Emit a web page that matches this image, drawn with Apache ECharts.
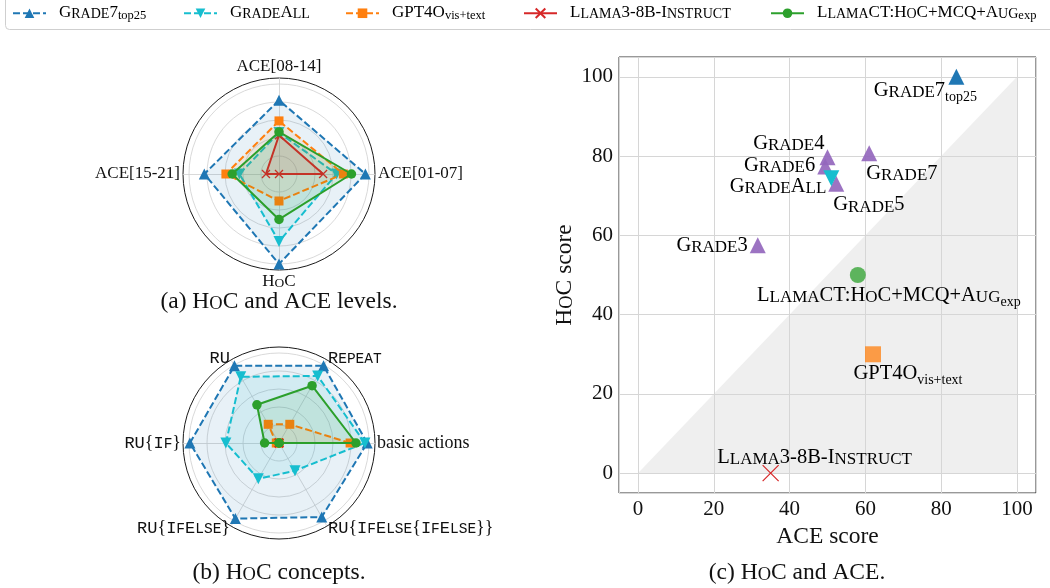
<!DOCTYPE html>
<html><head><meta charset="utf-8">
<script src="https://cdn.jsdelivr.net/npm/echarts@6/dist/echarts.min.js"></script>
<style>html,body{margin:0;padding:0;background:#fff}#c{width:1050px;height:588px}</style>
</head><body><div id="c"></div>
<script>
// ---------------- data ----------------
const models = ['Grade7_top25', 'GradeAll', 'GPT4O_vis+text', 'Llama3-8B-Instruct', 'LlamaCT:HoC+MCQ+Aug_exp'];

// (a) HoC and ACE levels  (counter-clockwise from top)
const levelAxes = ['ACE[08-14]', 'ACE[15-21]', 'HoC', 'ACE[01-07]'];
const levelGrade7top25 = [82, 83, 100, 96];
const levelGradeAll    = [46, 44, 75, 64];
const levelGPT4o       = [59, 59, 30, 71.5];
const levelLlama3      = [43, 14.5, 0, 49];
const levelLlamaCT     = [46.7, 52, 50.5, 80.5];

// (b) HoC concepts (counter-clockwise from right)
const conceptAxes = ['basic actions', 'Repeat', 'RU', 'RU{If}', 'RU{IfElse}', 'RU{IfElse{IfElse}}'];
const conceptGrade7top25 = [98, 99, 99, 99, 97, 95];
const conceptGradeAll    = [95.5, 86, 85, 59, 46, 35.5];
const conceptGPT4o       = [79, 24, 24, 3, 0, 0];
const conceptLlama3      = [0, 0, 0, 0, 0, 0];
const conceptLlamaCT     = [85.5, 73.5, 49, 16, 0, 0];

// (c) HoC vs ACE
const aceScore = [84, 51, 62, 35, 58];
const hocScore = [100, 74.4, 30, 0, 50];
const gradeNames = ['Grade3', 'Grade4', 'Grade5', 'Grade6', 'Grade7'];
const gradeAce = [31.6, 50, 52.3, 49.4, 61];
const gradeHoc = [57.5, 79.7, 73, 77.4, 80.7];
const diagonal = [[0, 0], [100, 100]];

// ---------------- styles ----------------
const SERIF = 'Liberation Serif';
const MONO = 'Liberation Mono';
const TXT = '#111';
const colors = ['#1f77b4', '#17becf', '#ff7f0e', '#d62728', '#2ca02c'];
const dashes = [[7, 3], [7, 3], [7, 3], 'solid', 'solid'];
const XPATH = 'path://M0,0L10,10M10,0L0,10';
const syms = ['triangle', 'triangle', 'rect', XPATH, 'circle'];
const rots = [0, 180, 0, 0, 0];
const radarSymSize = [11, 11, 9, 8, 9.5];
const pointOpacity = [1, 1, 0.75, 1, 0.75];
const legendLeft = [12, 183, 345, 523, 770];

// label placement for panel (c): [dx, dy, align]
const labelPlace = {
  'Grade7_top25': [-31, 15.3, 'center'],
  'GradeAll': [-5, 9.8, 'right'],
  'GPT4O_vis+text': [35, 21, 'center'],
  'Llama3-8B-Instruct': [44, -14, 'center'],
  'LlamaCT:HoC+MCQ+Aug_exp': [31, 22.5, 'center'],
  'Grade3': [-10, 2, 'right'],
  'Grade4': [-3, -12.2, 'right'],
  'Grade5': [-3, 23, 'left'],
  'Grade6': [-10, 0.5, 'right'],
  'Grade7': [-3, 22, 'left']
};

// small caps rich string builder
function sc(s, p) {
  let sub = '';
  const us = s.indexOf('_');
  if (us >= 0) { sub = s.slice(us + 1); s = s.slice(0, us); }
  let out = '', cur = null, buf = '';
  const flush = () => { if (buf) out += '{' + p + cur + '|' + buf + '}'; buf = ''; };
  for (const ch of s) {
    const t = (ch >= 'a' && ch <= 'z') ? 'S' : 'B';
    if (t !== cur) { flush(); cur = t; }
    buf += (t === 'S' ? ch.toUpperCase() : ch);
  }
  flush();
  if (sub) out += '{' + p + 'sub|' + sub + '}';
  return out;
}
// typewriter small caps with serif braces (braces left as plain text)
function mono(s) {
  let out = '', cur = null, buf = '';
  const flush = () => { if (buf) out += (cur === 'P' ? buf : '{m' + cur + '|' + buf + '}'); buf = ''; };
  for (const ch of s) {
    let t;
    if (ch === '{' || ch === '}') t = 'P';
    else if (ch >= 'a' && ch <= 'z') t = 'S';
    else t = 'B';
    if (t !== cur) { flush(); cur = t; }
    buf += (t === 'S' ? ch.toUpperCase() : ch);
  }
  flush();
  return out;
}
function richSet(p, big, small, subSize, pad, color) {
  const r = {};
  const common = { color: color, opacity: 1, textBorderWidth: 0, textBorderColor: 'transparent', textShadowBlur: 0 };
  r[p + 'B'] = Object.assign({ fontFamily: SERIF, fontSize: big, verticalAlign: 'bottom', padding: [0, 0, pad, 0] }, common);
  r[p + 'S'] = Object.assign({ fontFamily: SERIF, fontSize: small, verticalAlign: 'bottom', padding: [0, 0, pad, 0] }, common);
  r[p + 'sub'] = Object.assign({ fontFamily: SERIF, fontSize: subSize, verticalAlign: 'bottom' }, common);
  return r;
}

const labelRich = richSet('', 20.5, 17, 14, 3.5, '#000');
function pointLabel(name) {
  const pl = labelPlace[name];
  return {
    show: true, position: 'inside', offset: [pl[0], pl[1]], align: pl[2], verticalAlign: 'middle',
    formatter: () => sc(name, ''), fontFamily: SERIF, fontSize: 20.5, color: '#000', opacity: 1,
    textBorderWidth: 0, textBorderColor: 'transparent', rich: labelRich
  };
}

// ---------------- series ----------------
const series = [];
models.forEach((m, i) => {
  const isX = syms[i] === XPATH;
  series.push({
    type: 'line', name: m, xAxisIndex: 0, yAxisIndex: 0,
    data: [{ value: [aceScore[i], hocScore[i]], itemStyle: { opacity: pointOpacity[i] } }],
    symbol: syms[i], symbolSize: 16, symbolRotate: rots[i], showSymbol: true,
    lineStyle: { width: 2, type: dashes[i], color: colors[i] },
    itemStyle: isX ? { color: 'rgba(0,0,0,0)', borderColor: colors[i], borderWidth: 1.2 } : { color: colors[i] },
    label: pointLabel(m), z: 4 + i
  });
});
series.push({
  type: 'line', name: 'diag', data: diagonal, symbol: 'none', silent: true,
  lineStyle: { width: 0 }, areaStyle: { color: '#efefef', opacity: 1 }, z: -1
});
series.push({
  type: 'scatter', name: 'Grades', symbol: 'triangle', symbolSize: 16,
  itemStyle: { color: '#9467bd', opacity: 0.92 },
  data: gradeNames.map((g, k) => ({ name: g, value: [gradeAce[k], gradeHoc[k]], label: pointLabel(g) })),
  z: 3
});

const levelVals = [levelGrade7top25, levelGradeAll, levelGPT4o, levelLlama3, levelLlamaCT];
const conceptVals = [conceptGrade7top25, conceptGradeAll, conceptGPT4o, conceptLlama3, conceptLlamaCT];
function radarSeries(ri, vals) {
  models.forEach((m, i) => {
    const isX = syms[i] === XPATH;
    series.push({
      type: 'radar', radarIndex: ri, name: m,
      symbol: syms[i], symbolSize: radarSymSize[i], symbolRotate: rots[i],
      lineStyle: { width: 2, type: dashes[i], color: colors[i] },
      itemStyle: isX ? { color: 'rgba(0,0,0,0)', borderColor: colors[i], borderWidth: 1.3 } : { color: colors[i] },
      areaStyle: { color: colors[i], opacity: 0.1 },
      data: [{ name: m, value: vals[i] }],
      z: 2 + i * 0.1
    });
  });
}
radarSeries(0, levelVals);
radarSeries(2, conceptVals);

// ---------------- radars ----------------
const gridGray = '#cfcfcf';
function dataRadar(center, axes, start) {
  return {
    center: center, radius: 90, startAngle: start, shape: 'circle', splitNumber: 5,
    indicator: axes.map(n => ({ name: n, min: 0, max: 100 })),
    axisName: { show: false },
    splitLine: { lineStyle: { color: gridGray, width: 0.8 } },
    splitArea: { show: false }, axisLine: { show: false }, axisTick: { show: false }, axisLabel: { show: false }
  };
}
function frameRadar(center, axes, start, gap, fmt, size, rich) {
  return {
    center: center, radius: 96, startAngle: start, shape: 'circle', splitNumber: 1, nameGap: gap,
    indicator: axes.map(n => ({ name: n, min: 0, max: 100 })),
    axisName: { show: true, formatter: fmt, fontFamily: SERIF, fontSize: size, color: TXT, rich: rich },
    splitLine: { lineStyle: { color: '#1a1a1a', width: 1 } },
    splitArea: { show: false },
    axisLine: { lineStyle: { color: gridGray, width: 0.8 } },
    axisTick: { show: false }, axisLabel: { show: false }
  };
}
const aRich = {
  aB: { fontFamily: SERIF, fontSize: 17, color: TXT, verticalAlign: 'bottom' },
  aS: { fontFamily: SERIF, fontSize: 13.5, color: TXT, verticalAlign: 'bottom' }
};
const bRich = {
  mB: { fontFamily: MONO, fontSize: 17, color: TXT, verticalAlign: 'bottom' },
  mS: { fontFamily: MONO, fontSize: 14.5, color: TXT, verticalAlign: 'bottom' }
};
const radars = [
  dataRadar([279, 174], levelAxes, 90),
  frameRadar([279, 174], levelAxes, 90, 3, n => (n === 'HoC' ? sc(n, 'a') : n), 17, aRich),
  dataRadar([279, 443], conceptAxes, 0),
  frameRadar([279, 443], conceptAxes, 0, 2, n => (n === 'basic actions' ? n : mono(n)), 18, bRich)
];

// ---------------- legends ----------------
const legendRich = richSet('l', 17, 14, 12.5, 1.5, '#000');
const legends = models.map((m, i) => ({
  data: [m], left: legendLeft[i], top: 4, padding: 0, itemWidth: 33, itemHeight: 12,
  selectedMode: false, formatter: n => sc(n, 'l'),
  textStyle: { fontFamily: SERIF, fontSize: 17, color: '#000', padding: [0, 0, 0, 8], rich: legendRich }
}));

// ---------------- captions ----------------
const capRich = {
  N: { fontFamily: SERIF, fontSize: 23.5, fill: '#111', verticalAlign: 'bottom' },
  B: { fontFamily: SERIF, fontSize: 23.5, fill: '#111', verticalAlign: 'bottom' },
  S: { fontFamily: SERIF, fontSize: 18.5, fill: '#111', verticalAlign: 'bottom' }
};
function caption(x, y, pre, post) {
  return {
    type: 'text', x: x, y: y, silent: true,
    style: {
      text: '{N|' + pre + '}{B|H}{S|O}{B|C}{N|' + post + '}',
      fontFamily: SERIF, fontSize: 23.5, fill: '#111', align: 'center', verticalAlign: 'middle', rich: capRich
    }
  };
}

const axisNameRich = {
  B: { fontFamily: SERIF, fontSize: 23.5, color: TXT, verticalAlign: 'bottom' },
  S: { fontFamily: SERIF, fontSize: 18.5, color: TXT, verticalAlign: 'bottom' },
  N: { fontFamily: SERIF, fontSize: 23.5, color: TXT, verticalAlign: 'bottom' }
};
function valueAxis(name, gap, nameRich) {
  return {
    type: 'value', min: -5, max: 105,
    axisLine: { show: false }, axisTick: { show: false },
    splitLine: { show: true, lineStyle: { color: '#d6d6d6', width: 1 } },
    axisLabel: { fontFamily: SERIF, fontSize: 21, color: TXT, margin: 6, showMinLabel: false, showMaxLabel: false },
    name: name, nameLocation: 'middle', nameGap: gap,
    nameTextStyle: { fontFamily: SERIF, fontSize: 23.5, color: TXT, rich: nameRich }
  };
}

const option = {
  animation: false,
  backgroundColor: '#fff',
  textStyle: { fontFamily: SERIF },
  grid: { left: 619, right: 14, top: 57, bottom: 95, show: true, borderColor: '#333', borderWidth: 1, backgroundColor: 'rgba(0,0,0,0)', outerBoundsMode: 'none', containLabel: false },
  xAxis: valueAxis('ACE score', 27, axisNameRich),
  yAxis: valueAxis('{B|H}{S|O}{B|C}{N| score}', 42, axisNameRich),
  radar: radars,
  legend: legends,
  graphic: [
    { type: 'rect', silent: true, shape: { x: 5.5, y: -10, width: 1060, height: 39.5, r: 4 }, style: { fill: 'rgba(0,0,0,0)', stroke: '#cfcfcf', lineWidth: 1 } },
    caption(279, 302, '(a) ', ' and ACE levels.'),
    caption(279, 573, '(b) ', ' concepts.'),
    caption(797, 573, '(c) ', ' and ACE.')
  ],
  series: series
};

const chart = echarts.init(document.getElementById('c'), null, { renderer: 'canvas', width: 1050, height: 588 });
chart.setOption(option);
</script>
</body></html>
